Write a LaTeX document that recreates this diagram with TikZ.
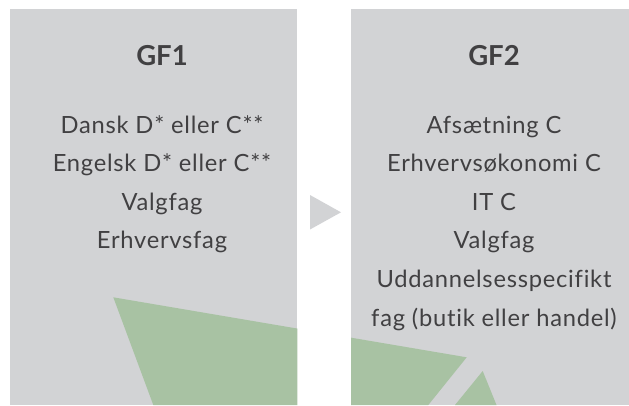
\documentclass[tikz,border=0pt]{standalone}
\usepackage{fontspec}
\setmainfont{Lato}[Ligatures=NoCommon]
\newfontfamily\itemfont{Lato}[Ligatures=NoCommon, LetterSpace=3.2]
\definecolor{panelgray}{HTML}{D2D3D5}
\definecolor{leafgreen}{HTML}{A8C2A3}
\definecolor{textgray}{HTML}{414042}
\tikzset{
  title/.style={anchor=base, inner sep=0pt, text=textgray, font=\fontsize{27.5}{27.5}\selectfont\bfseries},
  item/.style={anchor=base, inner sep=0pt, text=textgray, font=\itemfont\fontsize{23.7}{23.7}\selectfont},
}
\begin{document}
\begin{tikzpicture}[x=1pt,y=-1pt]
\useasboundingbox (0,0) rectangle (629,405);
% panels
\fill[panelgray] (10,9) rectangle (297.3,405);
\fill[panelgray] (351,9) rectangle (629,405);
% green shapes clipped to panels
\begin{scope}
  \clip (10,9) rectangle (297.3,405) (351,9) rectangle (629,405);
  \fill[leafgreen] (113.3,297.3) -- (466.7,357.3) -- (428.3,405) -- (153.3,405) -- cycle;
  \fill[leafgreen] (482.7,371) -- (496.5,405) -- (455,405) -- cycle;
\end{scope}
% arrow
\fill[panelgray] (310,195) -- (341,212.3) -- (310,229.5) -- cycle;
% left texts
\node[title] (t1) at (162,65) {GF1};
\node[item] (a1) at (162,133) {Dansk D* eller C**};
\node[item] (a2) at (162,171.5) {Engelsk D* eller C**};
\node[item] (a3) at (162,210) {Valgfag};
\node[item] (a4) at (162,248.5) {Erhvervsfag};
% right texts
\node[title] (t2) at (494,65) {GF2};
\node[item] (b1) at (494,133) {Afsætning C};
\node[item] (b2) at (494,171.5) {Erhvervsøkonomi C};
\node[item] (b3) at (494,210) {IT C};
\node[item] (b4) at (494,248.5) {Valgfag};
\node[item] (b5) at (494,287.5) {Uddannelsesspecifikt};
\node[item] (b6) at (494,326) {fag (butik eller handel)};
\end{tikzpicture}
\end{document}
